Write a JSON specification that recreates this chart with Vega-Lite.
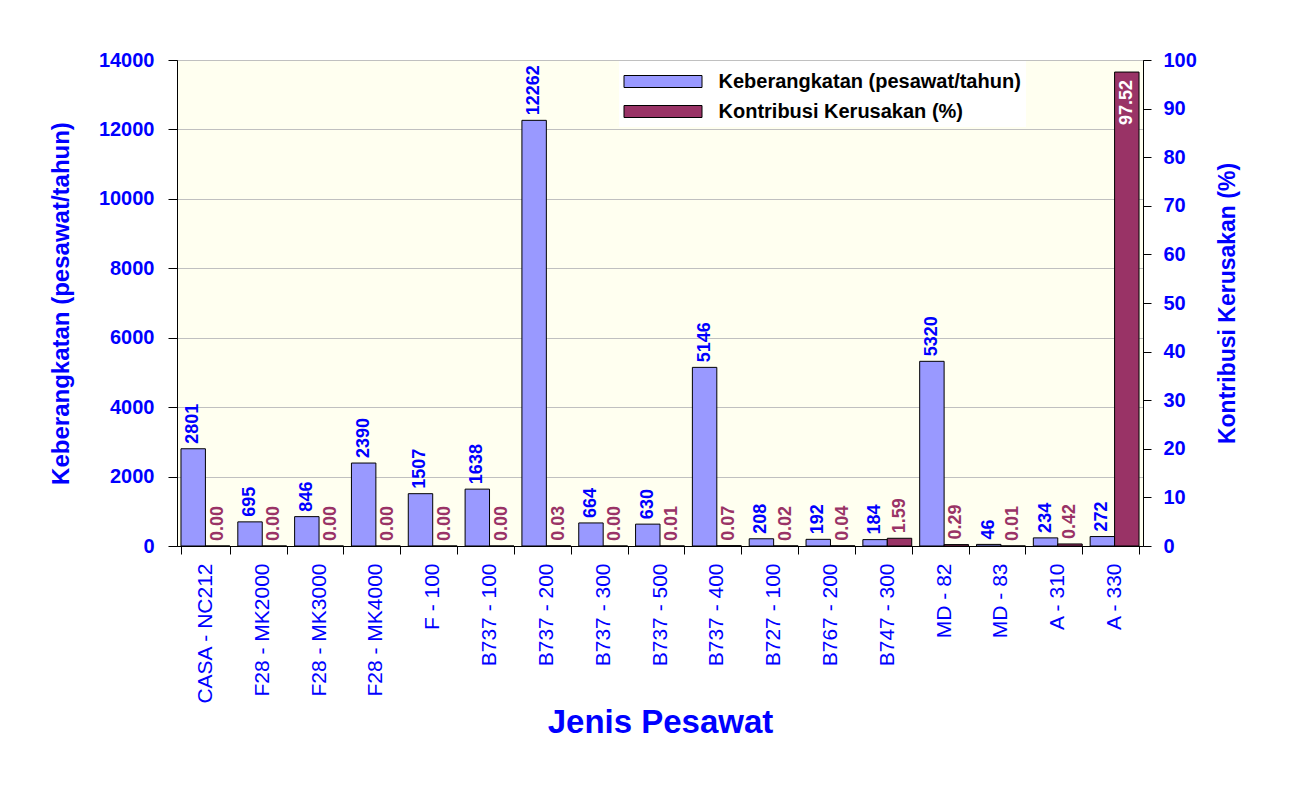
{
  "$schema": "https://vega.github.io/schema/vega-lite/v6.json",
  "width": 966,
  "height": 486,
  "autosize": {"type": "none"},
  "padding": {"left": 177, "top": 60, "right": 149, "bottom": 239},
  "background": "#FFFFFF",
  "config": {
    "view": {"fill": "#FFFFF0", "stroke": "#000000", "strokeWidth": 1},
    "axis": {
      "labelFont": "Liberation Sans, Arial, sans-serif",
      "titleFont": "Liberation Sans, Arial, sans-serif",
      "labelColor": "#0000FF",
      "titleColor": "#0000FF",
      "domainColor": "#000000",
      "tickColor": "#000000",
      "domainWidth": 1,
      "tickWidth": 1
    }
  },
  "data": {
    "values": [
      {"jenis": "CASA - NC212", "keb": 2801, "kon": 0.00},
      {"jenis": "F28 - MK2000", "keb": 695, "kon": 0.00},
      {"jenis": "F28 - MK3000", "keb": 846, "kon": 0.00},
      {"jenis": "F28 - MK4000", "keb": 2390, "kon": 0.00},
      {"jenis": "F - 100", "keb": 1507, "kon": 0.00},
      {"jenis": "B737 - 100", "keb": 1638, "kon": 0.00},
      {"jenis": "B737 - 200", "keb": 12262, "kon": 0.03},
      {"jenis": "B737 - 300", "keb": 664, "kon": 0.00},
      {"jenis": "B737 - 500", "keb": 630, "kon": 0.01},
      {"jenis": "B737 - 400", "keb": 5146, "kon": 0.07},
      {"jenis": "B727 - 100", "keb": 208, "kon": 0.02},
      {"jenis": "B767 - 200", "keb": 192, "kon": 0.04},
      {"jenis": "B747 - 300", "keb": 184, "kon": 1.59},
      {"jenis": "MD - 82", "keb": 5320, "kon": 0.29},
      {"jenis": "MD - 83", "keb": 46, "kon": 0.01},
      {"jenis": "A - 310", "keb": 234, "kon": 0.42},
      {"jenis": "A - 330", "keb": 272, "kon": 97.52}
    ]
  },
  "encoding": {
    "x": {
      "field": "jenis",
      "type": "nominal",
      "sort": null,
      "scale": {"paddingInner": 0.14, "paddingOuter": 0.07},
      "axis": {
        "title": "Jenis Pesawat",
        "titleFontSize": 33,
        "titleFontWeight": "bold",
        "titlePadding": 2,
        "labelAngle": 270,
        "labelAlign": "right",
        "labelBaseline": "middle",
        "labelFontSize": 21,
        "labelFontWeight": "normal",
        "labelPadding": 9,
        "labelLimit": 300,
        "tickBand": "extent",
        "tickSize": 8,
        "grid": false
      }
    }
  },
  "layer": [
    {
      "encoding": {
        "y": {
          "field": "keb",
          "type": "quantitative",
          "scale": {"domain": [0, 14000], "nice": false},
          "axis": {
            "orient": "left",
            "values": [0, 2000, 4000, 6000, 8000, 10000, 12000, 14000],
            "format": "d",
            "grid": true,
            "gridColor": "#C0C0C0",
            "gridWidth": 1,
            "title": "Keberangkatan (pesawat/tahun)",
            "titleFontSize": 24,
            "titleFontWeight": "bold",
            "titlePadding": 25,
            "labelFontSize": 20,
            "labelFontWeight": "bold",
            "tickSize": 9,
            "labelPadding": 14
          }
        }
      },
      "layer": [
        {
          "mark": {"type": "bar", "stroke": "#000000", "strokeWidth": 1},
          "encoding": {
            "fill": {
              "datum": "Keberangkatan (pesawat/tahun)",
              "scale": {
                "domain": ["Keberangkatan (pesawat/tahun)", "Kontribusi Kerusakan (%)"],
                "range": ["#9999FF", "#993366"]
              },
              "legend": {
                "orient": "none",
                "legendX": 442,
                "legendY": 1,
                "title": null,
                "direction": "vertical",
                "symbolType": "M-2.6,-0.4L2.6,-0.4L2.6,0.4L-2.6,0.4Z",
                "symbolSize": 900,
                "symbolOffset": 23.5,
                "symbolStrokeColor": "#000000",
                "symbolStrokeWidth": 1,
                "labelOffset": 40,
                "labelFont": "Liberation Sans, Arial, sans-serif",
                "labelFontSize": 20,
                "labelFontWeight": "bold",
                "labelColor": "#000000",
                "labelLimit": 500,
                "rowPadding": 4,
                "padding": 5,
                "fillColor": "#FFFFFF"
              }
            },
            "xOffset": {
              "datum": "Keberangkatan (pesawat/tahun)",
              "scale": {
                "domain": ["Keberangkatan (pesawat/tahun)", "Kontribusi Kerusakan (%)"],
                "padding": 0
              }
            }
          }
        },
        {
          "mark": {
            "type": "text",
            "angle": 270,
            "align": "left",
            "baseline": "middle",
            "dx": 5,
            "font": "Liberation Sans Narrow, Arial Narrow, Liberation Sans, sans-serif",
            "fontSize": 18,
            "fontWeight": "bold",
            "fill": "#0000FF"
          },
          "encoding": {
            "text": {"field": "keb", "type": "quantitative", "format": "d"},
            "xOffset": {"datum": "Keberangkatan (pesawat/tahun)"}
          }
        }
      ]
    },
    {
      "encoding": {
        "y": {
          "field": "kon",
          "type": "quantitative",
          "scale": {"domain": [0, 100], "nice": false},
          "axis": {
            "orient": "right",
            "values": [0, 10, 20, 30, 40, 50, 60, 70, 80, 90, 100],
            "grid": false,
            "title": "Kontribusi Kerusakan (%)",
            "titleAngle": 270,
            "titleBaseline": "top",
            "titleFontSize": 23,
            "titleFontWeight": "bold",
            "titlePadding": 20,
            "labelFontSize": 20,
            "labelFontWeight": "bold",
            "tickSize": 8,
            "labelPadding": 12
          }
        }
      },
      "layer": [
        {
          "mark": {"type": "bar", "stroke": "#000000", "strokeWidth": 1},
          "encoding": {
            "fill": {"datum": "Kontribusi Kerusakan (%)"},
            "xOffset": {"datum": "Kontribusi Kerusakan (%)"}
          }
        },
        {
          "transform": [{"filter": "datum.kon < 50"}],
          "mark": {
            "type": "text",
            "angle": 270,
            "align": "left",
            "baseline": "middle",
            "dx": 5,
            "font": "Liberation Sans Narrow, Arial Narrow, Liberation Sans, sans-serif",
            "fontSize": 18,
            "fontWeight": "bold",
            "fill": "#993366"
          },
          "encoding": {
            "text": {"field": "kon", "type": "quantitative", "format": ".2f"},
            "xOffset": {"datum": "Kontribusi Kerusakan (%)"}
          }
        },
        {
          "transform": [{"filter": "datum.kon >= 50"}],
          "mark": {
            "type": "text",
            "angle": 270,
            "align": "right",
            "baseline": "middle",
            "dx": -8,
            "font": "Liberation Sans Narrow, Arial Narrow, Liberation Sans, sans-serif",
            "fontSize": 18,
            "fontWeight": "bold",
            "fill": "#FFFFFF"
          },
          "encoding": {
            "text": {"field": "kon", "type": "quantitative", "format": ".2f"},
            "xOffset": {"datum": "Kontribusi Kerusakan (%)"}
          }
        }
      ]
    }
  ],
  "resolve": {"scale": {"y": "independent"}}
}
